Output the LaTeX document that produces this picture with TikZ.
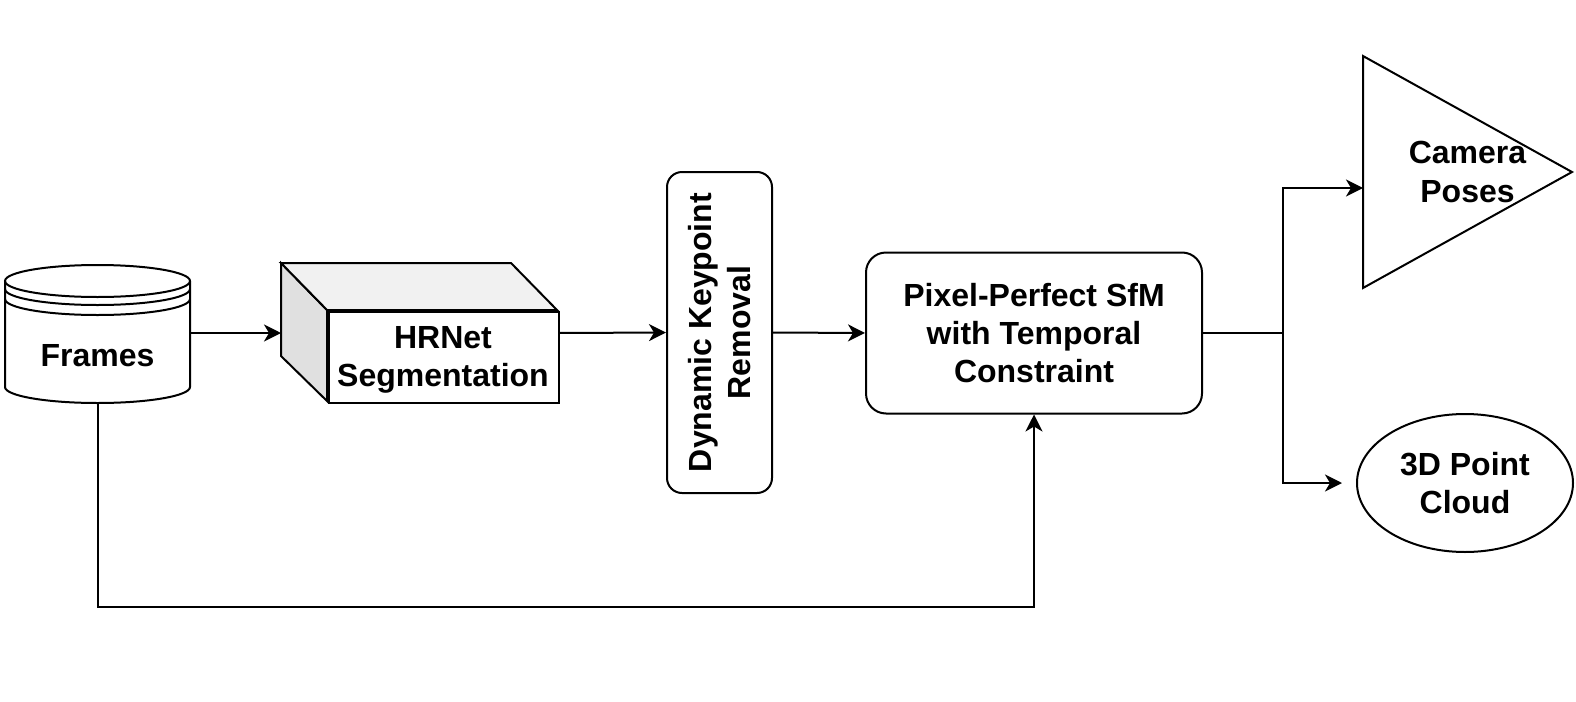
\documentclass[tikz,border=0pt]{standalone}
\usepackage{fontspec}
\setmainfont{Liberation Sans}
\usetikzlibrary{positioning,shapes.geometric,arrows.meta}

\definecolor{sidegray}{HTML}{E0E0E0}
\definecolor{topgray}{HTML}{F1F1F1}

\begin{document}
\begin{tikzpicture}[x=0.5pt,y=-0.5pt,line width=1pt,
		every node/.style={font=\bfseries\fontsize{16}{19.2}\selectfont,align=center,inner sep=0pt},
		box/.style={draw,line width=1pt},
		arr/.style={-{Stealth[length=8.5pt,width=8.5pt,inset=2.5pt]},line width=1pt}]
		\useasboundingbox (0,0) rectangle (1576,702);
		
		\node (frames) [minimum width=92.5pt,minimum height=70pt] at (97.5,333) {};
		\draw[fill=white] (5,281) -- (5,387) arc[start angle=180,end angle=360,x radius=46.25pt,y radius=8pt] -- (190,281);
		\draw (97.5,281) ellipse[x radius=46.25pt,y radius=8pt];
		\foreach \y in {289,299}
		\draw (5,\y) arc[start angle=180,end angle=360,x radius=46.25pt,y radius=8pt];
		\node (framestext) at (97.5,356) {Frames};
		
		\node (hrnet) [minimum width=138pt,minimum height=69pt] at (420,333) {};
		\draw[fill=sidegray] (hrnet.north west) -- ++(46,47) -- ++(0,91) -- ++(-46,-45) -- cycle;
		\draw[fill=topgray] (hrnet.north west) -- ++(230,0) -- ++(46,47) -- ++(-230,0) -- cycle;
		\draw[fill=white] (hrnet.south east) rectangle ++(-230,-91);
		\node (hrnettext) at (443,360) {HRNet\\Segmentation};
		
		\node (dkr) [box,rounded corners=7.5pt,minimum width=52.5pt,minimum height=160.5pt] at (719.5,332.5) {};
		\node (dkrtext) [rotate=90] at (dkr.center) {Dynamic Keypoint\\Removal};
		
		\node (pixel) [box,rounded corners=10pt,minimum width=168pt,minimum height=80.5pt] at (1034,333) {Pixel-Perfect SfM\\with Temporal\\Constraint};
		
		\node (cam) [minimum width=103.5pt,minimum height=115pt] at (1467.5,172) {Camera\\Poses};
		\draw (cam.north west) -- (cam.east) -- (cam.south west) -- cycle;
		
		\node (cloud) [box,ellipse,minimum width=108pt,minimum height=69pt] at (1465,483) {3D Point\\Cloud};
		
		\coordinate (split) at (1283,333);
		\draw[arr] (frames.east) -- (hrnet.west);
		\draw[arr] (hrnet.east) -- (dkr.west);
		\draw[arr] (dkr.east) -- (pixel.west);
		\draw (pixel.east) -- (split);
		\draw[arr] (split) |- ([yshift=-8pt]cam.west);
		\draw[arr] (split) |- ([xshift=-7pt]cloud.west);
		\draw[arr] (frames.south) -- ++(0,203) -| (pixel.south);
		
	\end{tikzpicture}
\end{document}
